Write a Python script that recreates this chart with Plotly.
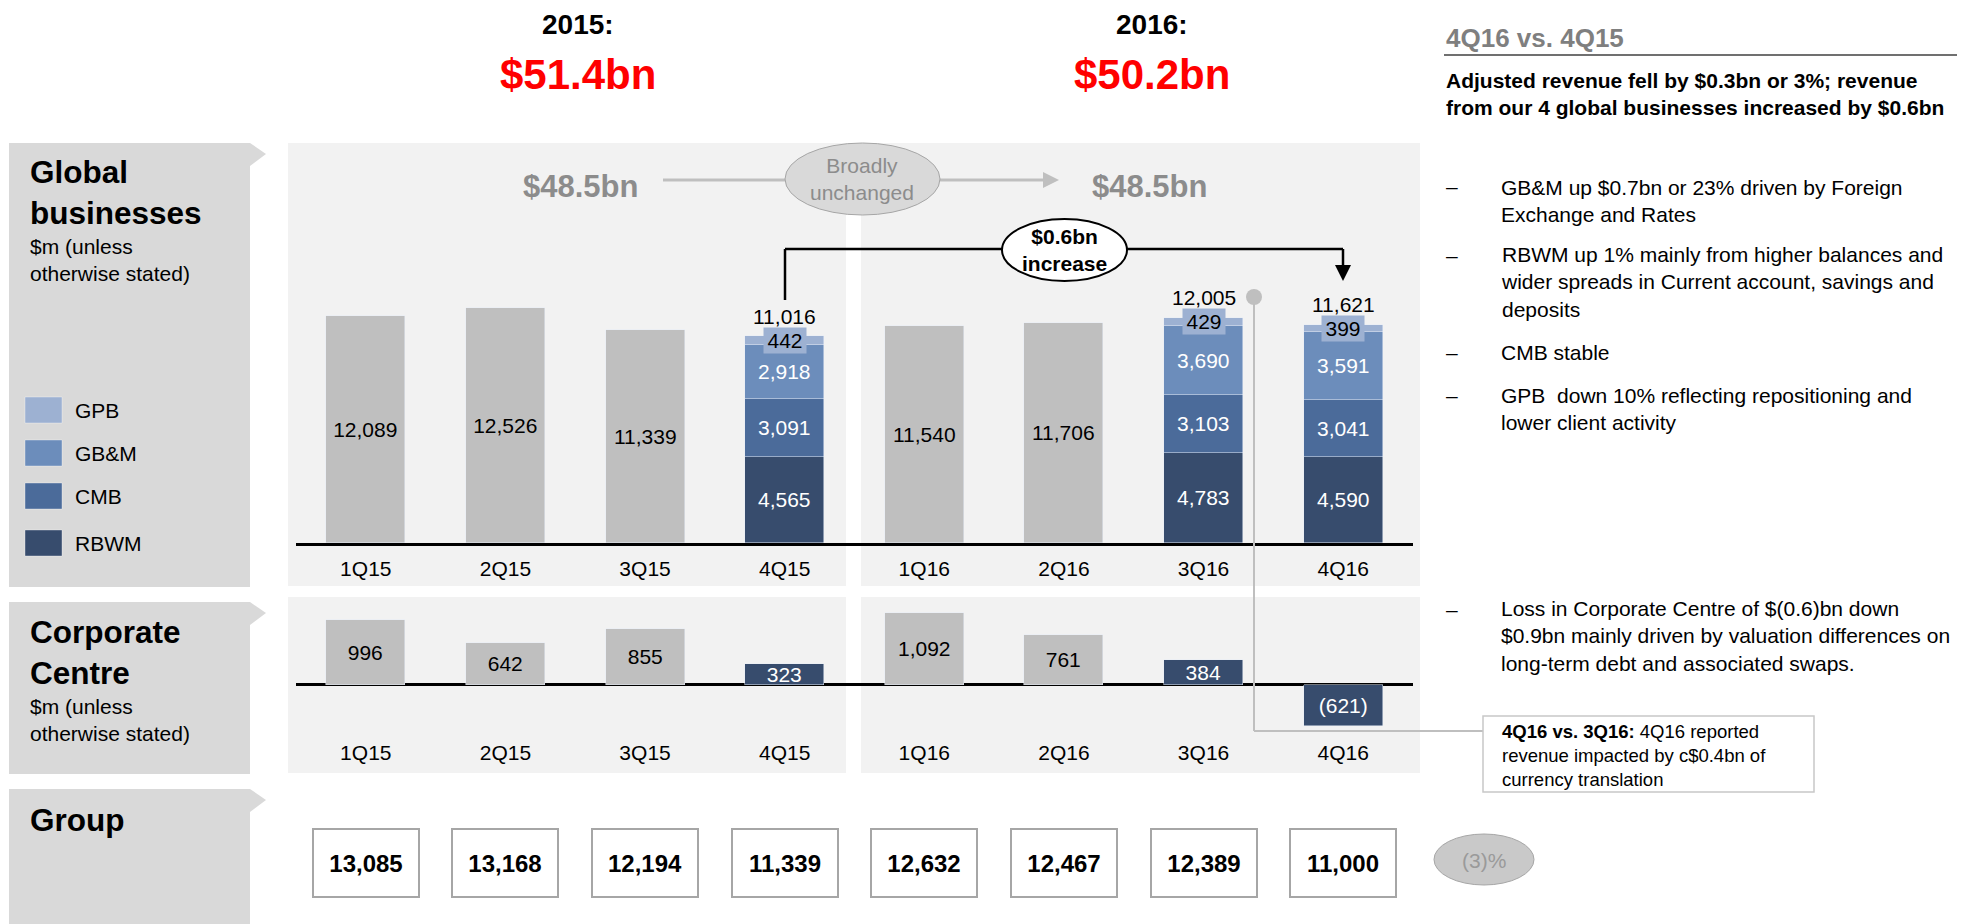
import plotly.graph_objects as go

W, H = 1979, 924
FONT = "Liberation Sans, Arial, sans-serif"

# ---------------- data ----------------
quarters = ["1Q15", "2Q15", "3Q15", "4Q15", "1Q16", "2Q16", "3Q16", "4Q16"]
gb_total = [12089, 12526, 11339, 11016, 11540, 11706, 12005, 11621]
rbwm = [None, None, None, 4565, None, None, 4783, 4590]
cmb = [None, None, None, 3091, None, None, 3103, 3041]
gbm = [None, None, None, 2918, None, None, 3690, 3591]
gpb = [None, None, None, 442, None, None, 429, 399]
corp_centre = [996, 642, 855, 323, 1092, 761, 384, -621]
highlight = [False, False, False, True, False, False, True, True]
group_total = [13085, 13168, 12194, 11339, 12632, 12467, 12389, 11000]
series_names = ["GPB", "GB&M", "CMB", "RBWM"]

C_GRAY = "#bfbfbf"
C_GPB, C_GBM, C_CMB, C_RBWM = "#9db1d2", "#6c8dbb", "#4b6b9a", "#374c6d"
series_colors = [C_GPB, C_GBM, C_CMB, C_RBWM]


def px(x):
    return x / W


def py(y):
    return 1 - y / H


xs = list(range(len(quarters)))
BW = 0.566

fig = go.Figure()

# grey (undivided) global business bars
gray_vals = [t if r is None else None for t, r in zip(gb_total, rbwm)]
fig.add_trace(go.Bar(
    x=xs, y=gray_vals, marker_color=C_GRAY, width=BW,
    text=[f"{v:,}" if v else "" for v in gray_vals],
    textposition="inside", insidetextanchor="middle", constraintext="none",
    textfont=dict(color="black", size=21, family=FONT), textangle=0,
    xaxis="x", yaxis="y", showlegend=False, hoverinfo="skip"))

for vals, col, name, tcol in [(rbwm, C_RBWM, "RBWM", "white"),
                              (cmb, C_CMB, "CMB", "white"),
                              (gbm, C_GBM, "GB&M", "white"),
                              (gpb, C_GPB, "GPB", None)]:
    fig.add_trace(go.Bar(
        x=xs, y=vals, marker_color=col, width=BW, name=name,
        text=[f"{v:,}" if (v and tcol) else "" for v in vals],
        textposition="inside", insidetextanchor="middle", constraintext="none",
        textfont=dict(color=tcol or "black", size=21, family=FONT), textangle=0,
        xaxis="x", yaxis="y", showlegend=False, hoverinfo="skip"))

# corporate centre bars
fig.add_trace(go.Bar(
    x=xs, y=corp_centre, width=BW,
    marker_color=[C_RBWM if h else C_GRAY for h in highlight],
    text=[f"({abs(v):,})" if v < 0 else f"{v:,}" for v in corp_centre],
    textposition="inside", insidetextanchor="middle", constraintext="none",
    textfont=dict(color=["white" if h else "black" for h in highlight], size=21, family=FONT),
    textangle=0, xaxis="x2", yaxis="y2", showlegend=False, hoverinfo="skip"))

ann = []


def A(x, y, text, size=21, color="black", xanchor="center", align="center", bold=False, **kw):
    if bold:
        text = f"<b>{text}</b>"
    d = dict(x=px(x), y=py(y), xref="paper", yref="paper", text=text, showarrow=False,
             font=dict(size=size, color=color, family=FONT), xanchor=xanchor,
             yanchor="middle", align=align)
    d.update(kw)
    ann.append(d)


# stacked totals and GPB labels
for i, q in enumerate(quarters):
    if gpb[i] is not None:
        ann.append(dict(x=i, y=gb_total[i], xref="x", yref="y", text=f"{gb_total[i]:,}",
                        showarrow=False, yshift=20, yanchor="middle",
                        font=dict(size=21, color="black", family=FONT)))
        ann.append(dict(x=i, y=gb_total[i] - gpb[i] / 2, xref="x", yref="y", text=f"{gpb[i]:,}",
                        showarrow=False, bgcolor=C_GPB, borderpad=0, width=42, height=25,
                        yanchor="middle", font=dict(size=21, color="black", family=FONT)))

# group boxes
for i, v in enumerate(group_total):
    ann.append(dict(x=i, y=py(863), xref="x", yref="paper", text=f"<b>{v:,}</b>",
                    showarrow=False, bgcolor="white", bordercolor="#a6a6a6", borderwidth=2,
                    borderpad=0, width=104, height=66, yanchor="middle",
                    font=dict(size=24, color="black", family=FONT)))

# titles
A(578, 24, "2015:", size=28, bold=True)
A(578, 74, "$51.4bn", size=42, color="#ff0000", bold=True)
A(1152, 24, "2016:", size=28, bold=True)
A(1152, 74, "$50.2bn", size=42, color="#ff0000", bold=True)

# left panels
A(28, 192, "Global<br>businesses", size=31.5, bold=True, xanchor="left", align="left")
A(28, 260, "$m (unless<br>otherwise stated)", size=21, xanchor="left", align="left")
A(28, 652, "Corporate<br>Centre", size=31.5, bold=True, xanchor="left", align="left")
A(28, 720, "$m (unless<br>otherwise stated)", size=21, xanchor="left", align="left")
A(28, 820, "Group", size=31.5, bold=True, xanchor="left", align="left")

# legend (drawn)
shapes = []
leg_y = [410, 453, 496, 543]
for name, col, yy in zip(series_names, series_colors, leg_y):
    shapes.append(dict(type="rect", xref="paper", yref="paper", x0=px(25), x1=px(62),
                       y0=py(yy - 13), y1=py(yy + 13), fillcolor=col,
                       line=dict(color="rgba(255,255,255,0.35)", width=1)))
    A(73, yy, name, xanchor="left")

# $48.5bn row
A(580, 186, "$48.5bn", size=31, color="#8c8c8c", bold=True)
A(1149, 186, "$48.5bn", size=31, color="#8c8c8c", bold=True)
A(862, 179, "Broadly<br>unchanged", size=21, color="#8c8c8c")
A(1064, 250, "$0.6bn<br>increase", size=21, bold=True)

# right commentary
A(1444, 38, "4Q16 vs. 4Q15", size=26, color="#7f7f7f", bold=True, xanchor="left")
A(1444, 94, "Adjusted revenue fell by $0.3bn or 3%; revenue<br>from our 4 global businesses increased by $0.6bn",
  size=21, bold=True, xanchor="left", align="left")
bullets = [
    (187, ["GB&M up $0.7bn or 23% driven by Foreign", "Exchange and Rates"]),
    (255, ["RBWM up 1% mainly from higher balances and",
           "wider spreads in Current account, savings and", "deposits"]),
    (352, ["CMB stable"]),
    (395, ["GPB  down 10% reflecting repositioning and", "lower client activity"]),
    (609, ["Loss in Corporate Centre of $(0.6)bn down",
           "$0.9bn mainly driven by valuation differences on",
           "long-term debt and associated swaps."]),
]
for y0, lines in bullets:
    A(1452, y0, "–", xanchor="center")
    n = len(lines)
    A(1499, y0 + 27.3 * (n - 1) / 2, "<br>".join(lines).replace("  ", "&nbsp; "),
      xanchor="left", align="left")

# callout
A(1500, 755, "<b>4Q16 vs. 3Q16:</b> 4Q16 reported<br>revenue impacted by c$0.4bn of<br>currency translation",
  size=18.5, xanchor="left", align="left")
A(1484, 860, "(3)%", size=21, color="#9a9a9a")


def rect(x0, y0, x1, y1, fill, line=None, lw=0, layer="below"):
    shapes.append(dict(type="rect", xref="paper", yref="paper", x0=px(x0), x1=px(x1),
                       y0=py(y0), y1=py(y1), fillcolor=fill, layer=layer,
                       line=dict(color=line or fill, width=lw)))


def path(pts, fill, layer="above"):
    d = "M " + " L ".join(f"{px(a):.5f},{py(b):.5f}" for a, b in pts) + " Z"
    shapes.append(dict(type="path", xref="paper", yref="paper", path=d, fillcolor=fill,
                       line=dict(width=0), layer=layer))


def line(x0, y0, x1, y1, color, w):
    shapes.append(dict(type="line", xref="paper", yref="paper", x0=px(x0), x1=px(x1),
                       y0=py(y0), y1=py(y1), line=dict(color=color, width=w)))


def ellipse(x0, y0, x1, y1, fill, lc, lw):
    shapes.append(dict(type="circle", xref="paper", yref="paper", x0=px(x0), x1=px(x1),
                       y0=py(y0), y1=py(y1), fillcolor=fill, line=dict(color=lc, width=lw)))


# label panels with chevrons
for top, bot in [(143, 587), (602, 774), (789, 930)]:
    rect(9, top, 250, bot, "#d9d9d9")
    path([(250, top), (266, top + 11), (250, top + 23)], "#d9d9d9", layer="below")

# chart panels
rect(288, 143, 1420, 215, "#f2f2f2")
rect(288, 143, 846, 586, "#f2f2f2")
rect(861, 143, 1420, 586, "#f2f2f2")
rect(288, 597, 846, 773, "#f2f2f2")
rect(861, 597, 1420, 773, "#f2f2f2")

# header rule
line(1444, 55, 1957, 55, "#404040", 1.5)

# broadly unchanged arrow
line(663, 180, 786, 180, C_GRAY, 3)
line(939, 180, 1045, 180, C_GRAY, 3)
path([(1043, 172), (1059, 180), (1043, 188)], C_GRAY)
ellipse(785, 143, 940, 215, "#d9d9d9", "#a6a6a6", 1)

# $0.6bn bracket
line(785, 300, 785, 249, "black", 2.5)
line(785, 249, 1343, 249, "black", 2.5)
line(1343, 249, 1343, 268, "black", 2.5)
path([(1335, 265), (1351, 265), (1343, 281)], "black")
ellipse(1002, 219, 1127, 281, "white", "black", 2)

# connector to callout
line(1254, 297, 1254, 731, C_GRAY, 2)
line(1254, 731, 1483, 731, C_GRAY, 2)
ellipse(1246, 289, 1262, 305, C_GRAY, C_GRAY, 0)
rect(1483, 716, 1814, 792, "white", "#c8c8c8", 1.5, layer="above")

# (3)% ellipse
ellipse(1434, 834, 1534, 885, "#c9c9c9", "#a6a6a6", 1)

dom_x = [px(296), px(1413)]
common_x = dict(range=[-0.5, 7.5], tickvals=xs, ticktext=quarters, ticks="",
                tickfont=dict(size=21, color="black", family=FONT), showgrid=False,
                zeroline=False, fixedrange=True)
fig.update_layout(
    width=W, height=H, margin=dict(l=0, r=0, t=0, b=0),
    paper_bgcolor="white", plot_bgcolor="rgba(0,0,0,0)",
    barmode="stack", bargap=0, showlegend=False,
    font=dict(family=FONT, color="black"),
    xaxis=dict(domain=dom_x, anchor="y", showline=True, linecolor="black", linewidth=2.5,
               ticklabelstandoff=5, **common_x),
    yaxis=dict(domain=[py(543), py(143)], anchor="x", range=[0, 21311], visible=False),
    xaxis2=dict(domain=dom_x, anchor="y2", showline=False, ticklabelstandoff=12, **common_x),
    yaxis2=dict(domain=[py(726), py(597)], anchor="x2", range=[-626, 1343], showgrid=False,
                showticklabels=False, zeroline=True, zerolinecolor="black", zerolinewidth=2.5),
    shapes=shapes, annotations=ann,
)

fig.write_html("out.html", config={"displayModeBar": False},
               post_script="document.body.style.margin='0';document.body.style.overflow='hidden';")
